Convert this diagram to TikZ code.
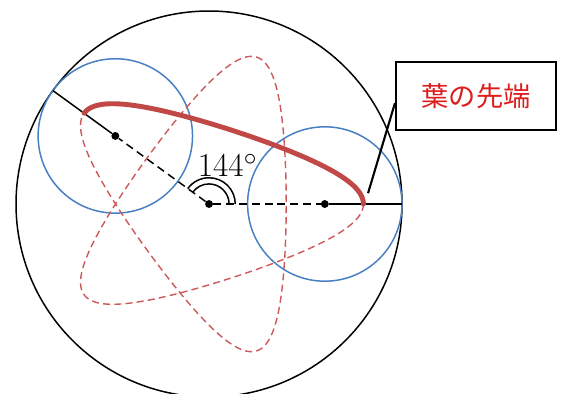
\documentclass[tikz,border=0pt]{standalone}
\usepackage{fontspec}
\newfontfamily\jpfont{Noto Sans CJK JP}
\usetikzlibrary{positioning, calc}

\definecolor{rollblue}{RGB}{72,128,194}
\definecolor{leafred}{RGB}{192,72,70}
\definecolor{tracered}{RGB}{204,90,90}
\definecolor{labelred}{RGB}{220,30,30}

\begin{document}
\begin{tikzpicture}[
	x=0.772cm, y=0.772cm,
	rim/.style={draw=black, line width=0.85pt},
	roller/.style={draw=rollblue, line width=0.85pt},
	radial/.style={black, line width=0.85pt},
	guide/.style={black, dash pattern=on 4.5pt off 2.8pt, line width=0.85pt},
	trace/.style={tracered, dash pattern=on 4pt off 2.4pt, line width=0.8pt},
	petal/.style={leafred, line width=2.8pt, line cap=round},
	hub/.style={circle, fill=black, inner sep=0pt, minimum size=4.5pt},
	callout/.style={rectangle, draw, line width=1.2pt, minimum width=3.2cm, minimum height=1.36cm, font=\jpfont\fontsize{15.5}{18}\selectfont, text=labelred},
]
	\useasboundingbox (-5.415,-4.922) rectangle (9.171,5.285);

	% Centres and rim points
	\node[hub] (o) at (0,0) {};
	\node[hub] (m1) at (3,0) {};
	\node[hub] (m2) at (144:3) {};
	\coordinate (e1) at (5,0);
	\coordinate (e2) at (144:5);
	\coordinate (tip) at (4.12,0.28);

	% Fixed circle and rolling circles
	\draw[rim] (o.center) circle[radius=5];
	\draw[roller] (m1.center) circle[radius=2];
	\draw[roller] (m2.center) circle[radius=2];

	% Whole trace (dashed)
	\draw[trace] plot[domain=0:720, samples=361, smooth] ({3*cos(\x)+cos(1.5*\x)}, {3*sin(\x)-sin(1.5*\x)});

	% Radius lines
	\draw[guide] (o) -- (m1);
	\draw[radial] (m1) -- (e1);
	\draw[guide] (o) -- (m2);
	\draw[radial] (m2) -- (e2);

	% Traced part of the leaf
	\draw[petal] plot[domain=0:144, samples=97, smooth] ({3*cos(\x)+cos(1.5*\x)}, {3*sin(\x)-sin(1.5*\x)});

	% Angle mark
	\draw[radial] ([shift={(0:0.52)}]o.center) arc[start angle=0, end angle=144, radius=0.52];
	\draw[radial] ([shift={(0:0.68)}]o.center) arc[start angle=0, end angle=144, radius=0.68];
	\node[font=\fontsize{19}{22}\selectfont, inner sep=0pt] (ang) at (0.48,1.0) {144$^\circ$};

	% Label
	\node[callout] (tag) at (6.917,2.798) {葉の先端};
	\draw[line width=1.2pt] (tip) -- (tag.185);
\end{tikzpicture}
\end{document}
